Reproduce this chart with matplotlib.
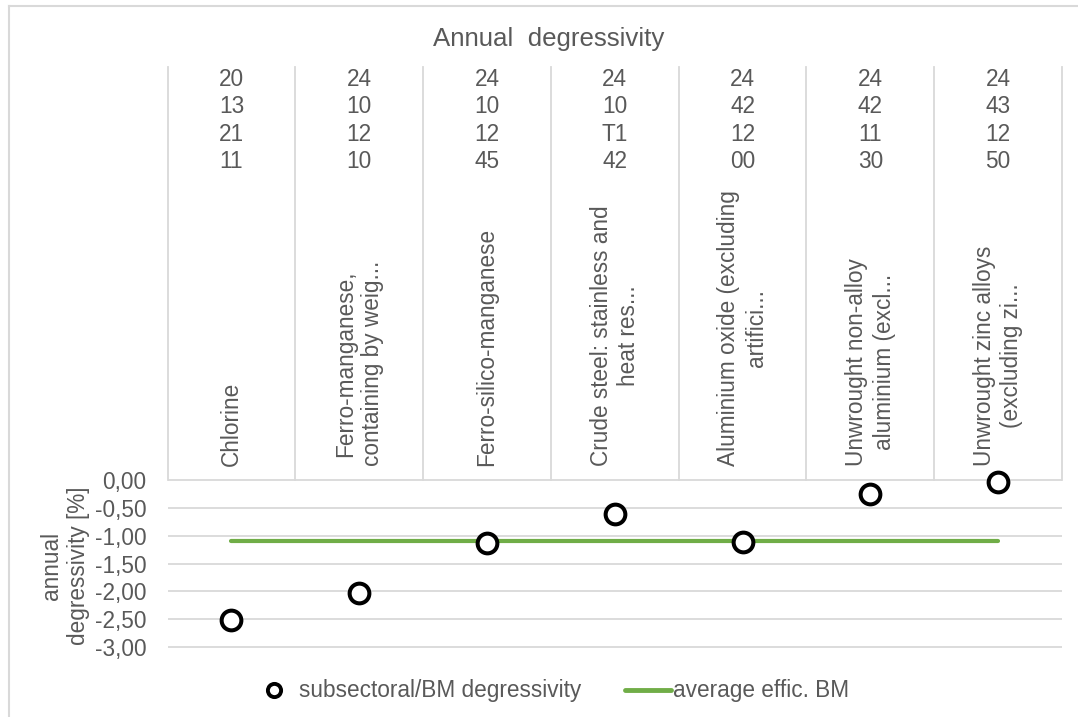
import matplotlib
matplotlib.use("Agg")
import matplotlib.pyplot as plt
from matplotlib.lines import Line2D
from matplotlib.ticker import FuncFormatter
from matplotlib.transforms import blended_transform_factory

plt.rcParams["font.family"] = ["Liberation Sans", "DejaVu Sans"]

# ---- data -------------------------------------------------------------
categories = [
    "Chlorine",
    "Ferro-manganese,\ncontaining by weig...",
    "Ferro-silico-manganese",
    "Crude steel: stainless and\nheat res...",
    "Aluminium oxide (excluding\nartifici...",
    "Unwrought non-alloy\naluminium (excl...",
    "Unwrought zinc alloys\n(excluding zi...",
]
codes = [
    ["20", "13", "21", "11"],
    ["24", "10", "12", "10"],
    ["24", "10", "12", "45"],
    ["24", "10", "T1", "42"],
    ["24", "42", "12", "00"],
    ["24", "42", "11", "30"],
    ["24", "43", "12", "50"],
]
degressivity = [-2.52, -2.03, -1.13, -0.61, -1.11, -0.25, -0.04]
average_bm = [-1.09, -1.09, -1.09, -1.09, -1.09, -1.09, -1.09]
y_ticks = [0.0, -0.5, -1.0, -1.5, -2.0, -2.5, -3.0]

# ---- styling ----------------------------------------------------------
TEXT = "#595959"
GRID = "#D9D9D9"
GREEN = "#70AD47"
FS = 16.3

W, H = 1078, 717
fig = plt.figure(figsize=(W / 100, H / 100), dpi=100)
fig.patch.set_facecolor("white")


def fy(px):
    return 1 - px / H


def fx(px):
    return px / W


ax = fig.add_axes([fx(167.5), fy(647), fx(1062) - fx(167.5), fy(480) - fy(647)])
x = list(range(len(categories)))

ax.set_xlim(-0.5, len(categories) - 0.5)
ax.set_ylim(min(y_ticks), max(y_ticks))
for s in ax.spines.values():
    s.set_visible(False)
ax.set_xticks([])
ax.set_yticks(y_ticks)
ax.yaxis.set_major_formatter(FuncFormatter(lambda v, _: f"{v:.2f}".replace(".", ",")))
ax.tick_params(axis="y", length=0, pad=15, labelsize=FS, labelcolor=TEXT)
ax.hlines(y_ticks, -0.5, len(categories) - 0.5, colors=GRID, lw=1.3,
          zorder=0, clip_on=False)

# average line and scatter points
ax.plot(x, average_bm, color=GREEN, lw=3.0, solid_capstyle="round",
        zorder=2, clip_on=False)
ax.plot(x, degressivity, ls="none", marker="o", ms=14.2, mew=2.9,
        mfc="white", mec="black", zorder=3, clip_on=False)

# category header above the plot
trans = blended_transform_factory(ax.transData, fig.transFigure)
for b in range(len(categories) + 1):
    ax.plot([b - 0.5, b - 0.5], [fy(480), fy(67)], color=GRID, lw=1.3,
            transform=trans, clip_on=False, zorder=0)
for i, (cat, code) in enumerate(zip(categories, codes)):
    ax.text(i, fy(120.5), "\n".join(code), transform=trans, ha="center",
            va="center", multialignment="center", fontsize=FS, color=TEXT,
            linespacing=1.25)
    ax.text(i, fy(466), cat, transform=trans, ha="center", va="bottom",
            rotation=90, multialignment="center", fontsize=FS, color=TEXT,
            linespacing=1.25, rotation_mode="default")

# titles
fig.text(fx(549), fy(39), "Annual  degressivity", ha="center", va="center",
         fontsize=18.6, color=TEXT)
fig.text(fx(65), fy(566), "annual\ndegressivity [%]", ha="center", va="center",
         rotation=90, multialignment="center", fontsize=FS, color=TEXT,
         linespacing=1.25)

# legend
handles = [
    Line2D([], [], ls="none", marker="o", ms=9.5, mew=2.8, mfc="white",
           mec="black", label="subsectoral/BM degressivity"),
    Line2D([], [], color=GREEN, lw=3.5, solid_capstyle="round",
           label="average effic. BM"),
]
leg = fig.legend(handles=handles, loc="center", bbox_to_anchor=(fx(550), fy(691)),
                 ncol=2, frameon=False, fontsize=FS, handlelength=2.04,
                 handletextpad=0.1, columnspacing=1.9, borderpad=0,
                 borderaxespad=0)
for t in leg.get_texts():
    t.set_color(TEXT)

# chart-area border (left and top edges)
fig.add_artist(Line2D([fx(9), fx(9)], [fy(6), 0], color=GRID, lw=1.5))
fig.add_artist(Line2D([fx(9), 1], [fy(6), fy(6)], color=GRID, lw=1.5))

fig.savefig("out.png", dpi=100, facecolor="white")
